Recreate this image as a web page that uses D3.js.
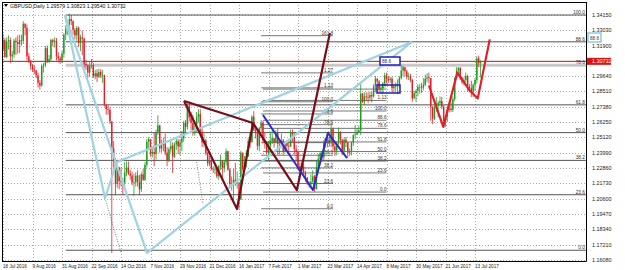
<!DOCTYPE html>
<html><head><meta charset="utf-8">
<script src="https://cdnjs.cloudflare.com/ajax/libs/d3/7.8.5/d3.min.js"></script>
<style>
body{margin:0;background:#fff}
text{font-family:"Liberation Sans",Arial,sans-serif}
</style>
</head><body>
<svg id="chart" width="625" height="270"></svg>
<script>
// GBPUSD daily, 18 Jul 2016 .. 18 Jul 2017, prices in pips (x 0.0001)
var firstOpen = 13160;
var highs = [13275,13245,13250,13265,13250,13150,13240,13250,13265,13270,
13270,13370,13355,13345,13135,13085,13055,13045,13010,12990,
12935,13055,13060,13185,13190,13120,13240,13240,13250,13245,
13140,13110,13150,13280,13340,13355,13425,13415,13375,13320,
13335,13330,13270,13300,13250,13085,13050,13070,13090,13060,
13010,13015,13020,13015,13010,12975,12760,12750,12735,12630,
12485,12360,12300,12295,12290,12215,12330,12335,12335,12270,
12260,12245,12255,12270,12235,12255,12280,12330,12500,12515,
12480,12445,12545,12570,12675,12605,12495,12510,12540,12440,
12440,12485,12475,12475,12505,12500,12500,12560,12635,12640,
12765,12775,12700,12680,12605,12700,12720,12720,12580,12540,
12500,12405,12375,12355,12300,12300,12290,12310,12385,12320,
12345,12430,12415,12285,12225,12280,12325,12260,12105,12415,
12400,12375,12420,12505,12545,12675,12705,12590,12550,12590,
12640,12635,12550,12485,12485,12550,12565,12510,12565,12580,
12495,12540,12500,12475,12490,12480,12570,12570,12545,12455,
12415,12325,12325,12320,12265,12220,12190,12240,12270,12235,
12340,12390,12405,12405,12490,12505,12520,12525,12615,12585,
12480,12485,12585,12560,12500,12510,12515,12480,12430,12480,
12535,12605,12575,12600,12905,12840,12845,12845,12845,12850,
12850,12905,12965,12950,12935,12900,12920,12990,12990,12965,
12960,12960,12905,12920,12940,12965,13045,13040,13030,13010,
12990,12980,12945,12855,12865,12905,12905,12915,12950,12975,
12985,12990,12950,12740,12750,12810,12780,12815,12810,12750,
12675,12740,12755,12770,12815,12955,13030,13030,13030,12960,
12955,12990,12975,12905,12930,12910,12950,13110,13115,13082];
var lows = [13150,13100,13095,13160,13060,13070,13100,13120,13130,13135,
13190,13200,13265,13080,13060,13010,12995,12980,12950,12880,
12865,12885,12990,13030,13060,13060,13075,13185,13175,13080,
13065,13055,13060,13100,13230,13270,13260,13340,13270,13235,
13225,13180,13150,13120,13020,13010,12950,12960,13020,12950,
12940,12920,12950,12950,12915,12740,12680,12680,12610,11660,
12290,12085,12140,12130,12150,12090,12150,12225,12235,12200,
12160,12080,12150,12150,12085,12110,12190,12190,12290,12420,
12370,12365,12300,12350,12530,12400,12400,12410,12380,12300,
12330,12400,12250,12360,12420,12390,12380,12410,12480,12540,
12570,12630,12565,12525,12525,12545,12620,12520,12440,12440,
12380,12300,12300,12270,12250,12240,12210,12200,12270,12200,
12255,12305,12265,12150,12120,12030,12155,12135,11985,12050,
12260,12275,12290,12375,12435,12470,12560,12505,12420,12410,
12540,12470,12430,12385,12345,12400,12465,12435,12470,12385,
12385,12440,12385,12400,12425,12385,12440,12480,12385,12345,
12270,12250,12250,12240,12185,12160,12140,12135,12175,12110,
12130,12255,12330,12335,12340,12435,12440,12445,12440,12415,
12375,12380,12455,12460,12380,12395,12440,12365,12375,12380,
12450,12500,12530,12545,12530,12765,12750,12780,12765,12780,
12770,12805,12845,12895,12845,12840,12835,12890,12910,12915,
12915,12845,12840,12855,12830,12880,12940,12960,12965,12940,
12935,12920,12775,12795,12775,12815,12835,12840,12860,12890,
12920,12910,12635,12610,12640,12700,12660,12745,12720,12620,
12590,12625,12695,12700,12700,12780,12940,12975,12935,12905,
12895,12915,12850,12845,12810,12810,12855,12910,13030,12954];
var closes = [13230,13105,13220,13230,13110,13125,13225,13215,13200,13230,
13225,13350,13320,13110,13075,13040,13015,13005,12970,12915,
12895,13040,13045,13170,13075,13090,13230,13215,13225,13110,
13095,13080,13130,13270,13310,13320,13385,13370,13305,13265,
13320,13210,13250,13240,13055,13045,12990,13040,13045,12965,
12985,12960,12995,12970,12970,12750,12720,12715,12630,12430,
12345,12170,12290,12190,12185,12180,12255,12290,12245,12230,
12180,12180,12230,12185,12130,12240,12200,12310,12480,12500,
12390,12405,12390,12550,12600,12430,12455,12475,12400,12340,
12425,12450,12370,12460,12485,12445,12475,12505,12620,12590,
12745,12660,12620,12545,12560,12665,12685,12555,12475,12490,
12395,12320,12345,12280,12275,12280,12225,12300,12340,12285,
12330,12410,12275,12170,12170,12200,12175,12180,12055,12400,
12280,12335,12370,12485,12480,12665,12565,12545,12450,12580,
12620,12490,12475,12400,12450,12485,12505,12480,12545,12465,
12465,12490,12410,12470,12450,12445,12550,12535,12425,12405,
12300,12270,12300,12250,12215,12175,12165,12185,12225,12130,
12290,12355,12395,12365,12475,12480,12490,12470,12575,12445,
12415,12470,12550,12495,12410,12495,12475,12400,12410,12475,
12530,12535,12550,12565,12835,12775,12815,12810,12805,12825,
12815,12890,12945,12925,12865,12875,12910,12970,12945,12935,
12945,12875,12890,12890,12905,12950,13005,13030,13000,12960,
12965,12935,12800,12840,12855,12885,12885,12880,12900,12945,
12955,12950,12740,12650,12730,12745,12765,12780,12740,12630,
12670,12715,12725,12715,12795,12950,13005,13025,12945,12920,
12935,12965,12885,12875,12850,12900,12935,13095,13060,13073];

var priceTicks = [1.16080,1.17210,1.18340,1.19470,1.20600,1.21730,1.22860,1.23990,1.25120,
  1.26250,1.27380,1.28510,1.29640,1.30770,1.31900,1.33030,1.34150];
var dateBars = [0,16,32,48,64,80,96,112,128,144,160,176,192,208,224,240,256];
var dateLabels = ["18 Jul 2016","9 Aug 2016","31 Aug 2016","22 Sep 2016","14 Oct 2016",
  "7 Nov 2016","29 Nov 2016","21 Dec 2016","16 Jan 2017","7 Feb 2017","1 Mar 2017",
  "23 Mar 2017","14 Apr 2017","8 May 2017","30 May 2017","21 Jun 2017","13 Jul 2017"];
var lastPrice = 1.30732;
var titleText = "GBPUSD,Daily  1.29579 1.30823 1.29540 1.30732";

// big fibo retracement (Sep high -> Oct flash crash low)
var fiboLevels = [0, 23.6, 38.2, 50.0, 61.8, 78.6, 88.6, 100.0];
var fiboLow = 1.1680, fiboHigh = 1.3415, fiboStartBar = 34;

// pattern points [bar, price]
var cyanA = [[33.6,1.3415],[55.3,1.2065],[61.8,1.2331],[221.8,1.3216]];
var cyanB = [[33.6,1.3415],[78.1,1.1660],[221.8,1.3216]];
var maroonPts = [[98.2,1.2781],[126.9,1.1984],[135.6,1.2618],[159.4,1.2124],[177.3,1.3282]];
var maroonTri = [[98.2,1.2781],[135.6,1.2618]];
var bluePts = [[141,1.2677],[168.1,1.2124],[176.2,1.2545],[186.6,1.2360]];
var redPts = [[231,1.2895],[238.8,1.2590],[246.4,1.2990],[253,1.2860],[257.5,1.2800],[264,1.3235]];
var dotted = [[[55.3,1.2065],[64,1.1660]], [[105,1.2331],[108.5,1.2020]]];

// pattern fibo sets
var extLevels = [0, 23.6, 38.2, 50.0, 61.8, 78.6, 88.6, 100.0, 113, 127, 161.8];
var extA = {p0:1.1986, p100:1.2775, b0:140, b1:179};
var extLevelsB = [0, 23.6, 38.2, 50.0, 61.8, 78.6, 88.6, 100.0, 113, 127];
var extB = {p0:1.2109, p100:1.2707, b0:141, b1:208};
var extNames = {113:"1.13", 127:"1.27"};

var svg = d3.select("#chart");
var L = 2, R = 586, T = 2, B = 261;
var x = d3.scaleLinear().domain([0, 256]).range([3, 475]);
var y = d3.scaleLinear().domain([1.16080, 1.34150]).range([260, 15]);

svg.append("rect").attr("x",0).attr("y",0).attr("width",625).attr("height",270).attr("fill","#fff");

svg.append("defs").append("clipPath").attr("id","plot")
  .append("rect").attr("x",L).attr("y",T).attr("width",R-L).attr("height",B-T);

// grid
var grid = svg.append("g");
grid.selectAll("line.h").data(priceTicks).enter().append("line")
  .attr("x1",L).attr("x2",R).attr("y1",function(d){return Math.round(y(d))+0.5})
  .attr("y2",function(d){return Math.round(y(d))+0.5})
  .attr("stroke","#aaa").attr("stroke-dasharray","1,2");
grid.selectAll("line.v").data(dateBars).enter().append("line")
  .attr("y1",T).attr("y2",B).attr("x1",function(d){return Math.round(x(d))+0.5})
  .attr("x2",function(d){return Math.round(x(d))+0.5})
  .attr("stroke","#aaa").attr("stroke-dasharray","1,2");

var plot = svg.append("g").attr("clip-path","url(#plot)");

// big fibo lines
plot.selectAll("line.fib").data(fiboLevels).enter().append("line")
  .attr("x1",x(fiboStartBar)).attr("x2",R)
  .attr("y1",function(d){return y(fiboLow + d/100*(fiboHigh-fiboLow))})
  .attr("y2",function(d){return y(fiboLow + d/100*(fiboHigh-fiboLow))})
  .attr("stroke",function(d){return d==78.6 ? "#c8c8c8" : "#555"})
  .attr("stroke-width",function(d){return d==78.6 ? 3 : 1});

// pattern fibo sets
function drawExt(levels, e){
  var g = plot.append("g");
  levels.forEach(function(l){
    var p = e.p0 + l/100*(e.p100-e.p0);
    g.append("line").attr("x1",x(e.b0)).attr("x2",x(e.b1))
      .attr("y1",y(p)).attr("y2",y(p)).attr("stroke","#555").attr("stroke-width",0.8);
    g.append("text").attr("x",x(e.b1)).attr("y",y(p)-1).attr("text-anchor","end")
      .attr("font-size",4.6).attr("fill","#333").text(extNames[l] || l.toFixed(1));
  });
}
drawExt(extLevels, extA);
drawExt(extLevelsB, extB);

// current price line
plot.append("line").attr("x1",L).attr("x2",R).attr("y1",y(lastPrice)).attr("y2",y(lastPrice))
  .attr("stroke","#d01010").attr("stroke-width",1);

// candles
var bars = closes.map(function(c,i){
  return {i:i, o:(i==0?firstOpen:closes[i-1])/1e4, h:highs[i]/1e4, l:lows[i]/1e4, c:c/1e4};
});
var cg = plot.append("g");
cg.selectAll("line").data(bars).enter().append("line")
  .attr("x1",function(d){return x(d.i)}).attr("x2",function(d){return x(d.i)})
  .attr("y1",function(d){return y(d.h)}).attr("y2",function(d){return y(d.l)})
  .attr("stroke",function(d){return d.c>=d.o ? "#1f9a1f" : "#e0202a"}).attr("stroke-width",0.8);
cg.selectAll("rect").data(bars).enter().append("rect")
  .attr("x",function(d){return x(d.i)-0.7}).attr("width",1.4)
  .attr("y",function(d){return y(Math.max(d.o,d.c))})
  .attr("height",function(d){return Math.max(0.6, Math.abs(y(d.o)-y(d.c)))})
  .attr("fill",function(d){return d.c>=d.o ? "#1f9a1f" : "#e0202a"});

// patterns
var line = d3.line().x(function(d){return x(d[0])}).y(function(d){return y(d[1])});
function poly(pts, col, w, dash){
  plot.append("path").attr("d",line(pts)).attr("fill","none").attr("stroke",col)
    .attr("stroke-width",w).attr("stroke-linejoin","round")
    .attr("stroke-dasharray",dash||null);
}
dotted.forEach(function(p){ poly(p, "#444", 0.7, "1,1.5"); });
poly(cyanA, "#9fd3e0", 2.2);
poly(cyanB, "#9fd3e0", 2.2);
poly(maroonPts, "#7a0d1a", 2.2);
poly(maroonTri, "#7a0d1a", 2.2);
poly(bluePts, "#2b2bd0", 2);
poly(redPts, "#e0202a", 2.2);

// boxes
svg.append("rect").attr("x",380).attr("y",57).attr("width",20).attr("height",8)
  .attr("fill","#fff").attr("stroke","#2020b0").attr("stroke-width",1.5);
svg.append("text").attr("x",382).attr("y",63).attr("font-size",4.6).attr("fill","#2020b0").text("88.6");
svg.append("rect").attr("x",377).attr("y",85).attr("width",23).attr("height",8)
  .attr("fill","none").attr("stroke","#2020b0").attr("stroke-width",1.5);

// right fibo labels
svg.selectAll("text.fl").data(fiboLevels).enter().append("text")
  .attr("x",585).attr("y",function(d){return y(fiboLow + d/100*(fiboHigh-fiboLow))-1})
  .attr("text-anchor","end").attr("font-size",4.8).attr("fill","#333")
  .text(function(d){return d.toFixed(1)});
svg.append("rect").attr("x",588).attr("y",33).attr("width",13).attr("height",9)
  .attr("fill","none").attr("stroke","#8ccbe0").attr("stroke-width",1.5);
svg.append("text").attr("x",594.5).attr("y",39.5).attr("text-anchor","middle")
  .attr("font-size",4.6).attr("fill","#333").text("88.6");

// frame
svg.append("line").attr("x1",R+0.5).attr("x2",R+0.5).attr("y1",T).attr("y2",B+0.5).attr("stroke","#000");
svg.append("line").attr("x1",L).attr("x2",R+0.5).attr("y1",B+0.5).attr("y2",B+0.5).attr("stroke","#000");
svg.append("line").attr("x1",L).attr("x2",R).attr("y1",T+0.5).attr("y2",T+0.5).attr("stroke","#000");
svg.append("line").attr("x1",L+0.5).attr("x2",L+0.5).attr("y1",T).attr("y2",B).attr("stroke","#000");

// price axis
svg.selectAll("text.pt").data(priceTicks).enter().append("text")
  .attr("x",592).attr("y",function(d){return y(d)+2}).attr("font-size",5.4).attr("fill","#222")
  .text(function(d){return d.toFixed(5)});
svg.append("rect").attr("x",587).attr("y",y(lastPrice)-3.5).attr("width",24).attr("height",7).attr("fill","#e01010");
svg.append("text").attr("x",592).attr("y",y(lastPrice)+2).attr("font-size",5.4).attr("fill","#fff").text(lastPrice.toFixed(5));

// date axis
svg.selectAll("text.dt").data(dateBars).enter().append("text")
  .attr("x",function(d){return x(d)}).attr("y",268).attr("font-size",4.6).attr("fill","#222")
  .text(function(d,i){return dateLabels[i]});

// title
svg.append("path").attr("d","M4,4 L8,4 L6,7 Z").attr("fill","#000");
svg.append("text").attr("x",10).attr("y",8).attr("font-size",5.2).attr("fill","#111").text(titleText);
</script>
</body></html>
